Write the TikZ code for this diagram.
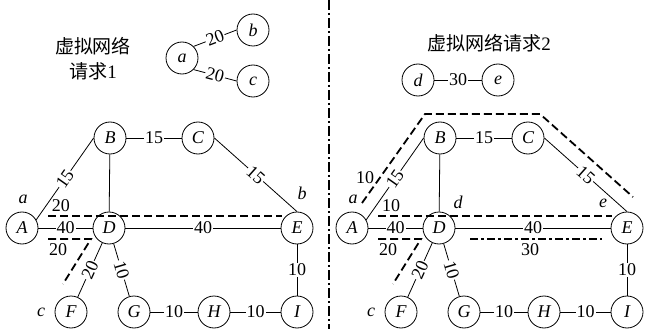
\documentclass[tikz,border=0pt]{standalone}
\usepackage{fontspec}
\setmainfont{Liberation Serif}
\newfontfamily\cjk{Noto Sans CJK SC}
\newcommand\netgraph[2]{%
  \node[vn] (#1A) at (#2+22,228) {A};
  \node[vn] (#1B) at (#2+110,138) {B};
  \node[vn] (#1C) at (#2+198,138) {C};
  \node[vn] (#1D) at (#2+109,228) {D};
  \node[vn] (#1E) at (#2+297,228) {E};
  \node[vn] (#1F) at (#2+71,312) {F};
  \node[vn] (#1G) at (#2+134,312) {G};
  \node[vn] (#1H) at (#2+214,312) {H};
  \node[vn] (#1I) at (#2+297,312) {I};
  \draw[ed] (#1A.30) -- node[lab,sloped]{15} (#1B.west);
  \draw[ed] (#1B) -- node[lab]{15} (#1C);
  \draw[ed] (#1C.east) -- node[lab,sloped]{15} (#1E.north);
  \draw[ed] (#1B) -- (#1D);
  \draw[ed] (#1A) -- node[lab]{40} (#1D);
  \draw[ed] (#1D) -- node[lab]{40} (#1E);
  \draw[ed] (#1D) -- node[lab,sloped]{20} (#1F);
  \draw[ed] (#1D) -- node[lab,sloped]{10} (#1G);
  \draw[ed] (#1E) -- node[lab]{10} (#1I);
  \draw[ed] (#1G) -- node[lab]{10} (#1H);
  \draw[ed] (#1H) -- node[lab]{10} (#1I);
  \coordinate (#1p1) at (#2+48,216);
  \coordinate (#1p2) at (#2+282,216);
  \draw[dsh] (#1p1) -- (#1p2);
  \coordinate (#1q1) at (#2+48,239);
  \coordinate (#1q2) at (#2+91,239);
  \coordinate (#1q3) at (#2+63,284);
  \draw[dsh] (#1q1) -- (#1q2) -- (#1q3);
  \node[annit] (#1la) at (#2+23,199) {a};
  \node[ann] (#1l20b) at (#2+58,250) {20};
  \node[annit] (#1lc) at (#2+41,312) {c};
}
\begin{document}
\begin{tikzpicture}[x=1pt,y=-1pt,
  vn/.style={draw, circle, minimum size=32pt, inner sep=0pt, line width=0.8pt,
    font=\fontsize{18}{20}\selectfont\itshape},
  ed/.style={line width=0.8pt},
  lab/.style={fill=white, inner sep=1pt, font=\fontsize{18}{20}\selectfont},
  ann/.style={inner sep=0pt, font=\fontsize{18}{20}\selectfont},
  annit/.style={inner sep=0pt, font=\fontsize{18}{20}\selectfont\itshape},
  dsh/.style={line width=1.8pt, dash pattern=on 8pt off 4pt},
  dashdot/.style={line width=1.8pt, dash pattern=on 8pt off 3pt on 3pt off 3pt},
  divider/.style={line width=1.3pt, dash pattern=on 10pt off 3pt on 2pt off 3pt}]
\useasboundingbox (0,0) rectangle (646,329);
% divider
\coordinate (divT) at (329,0);
\coordinate (divB) at (329,329);
\draw[divider] (divT) -- (divB);
% request 1
\node[font=\fontsize{19}{25}\selectfont, align=center] (t1) at (93,59) {{\cjk 虚拟网络}\\{\cjk 请求}1};
\node[vn] (a) at (182,58) {a};
\node[vn] (b) at (253,30) {b};
\node[vn] (c) at (253,81) {c};
\draw[ed] (a.north east) -- node[lab,sloped]{20} (b.west);
\draw[ed] (a.south east) -- node[lab,sloped]{20} (c.west);
% request 2
\node[font=\fontsize{19}{25}\selectfont] (t2) at (489,43) {{\cjk 虚拟网络请求}2};
\node[vn] (d) at (418,80) {d};
\node[vn] (e) at (498,80) {e};
\draw[ed] (d) -- node[lab]{30} (e);
% left network
\netgraph{L}{0}
\node[ann] (Ll20a) at (61,206) {20};
\node[annit] (Llb) at (302,193) {b};
% right network
\netgraph{R}{330}
\coordinate (Rt1) at (362,203);
\coordinate (Rt2) at (425,114);
\coordinate (Rt3) at (540,114);
\coordinate (Rt4) at (633,197);
\draw[dsh] (Rt1) -- (Rt2) -- (Rt3) -- (Rt4);
\coordinate (Rm1) at (470,239);
\coordinate (Rm2) at (602,239);
\draw[dashdot] (Rm1) -- (Rm2);
\node[ann] (Rl10a) at (365,178) {10};
\node[ann] (Rl10b) at (391,206) {10};
\node[annit] (Rld) at (458,202) {d};
\node[annit] (Rle) at (603,203) {e};
\node[ann] (Rl30) at (530,250) {30};
\end{tikzpicture}
\end{document}
